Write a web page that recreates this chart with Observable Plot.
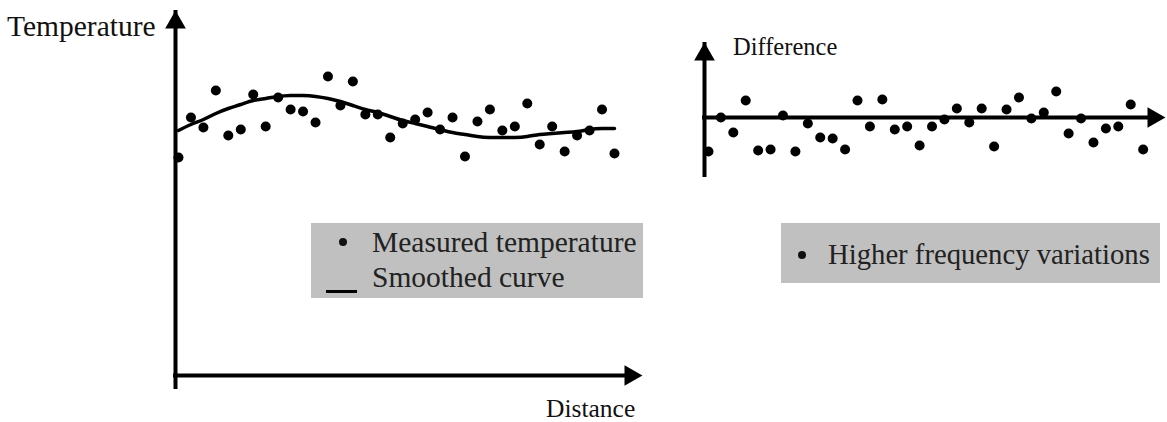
<!DOCTYPE html>
<html>
<head>
<meta charset="utf-8">
<script src="https://cdn.jsdelivr.net/npm/d3@7"></script>
<script src="https://cdn.jsdelivr.net/npm/@observablehq/plot@0.6"></script>
<style>
  html, body { margin: 0; padding: 0; background: #fff; }
  #root { position: relative; width: 1167px; height: 422px; overflow: hidden; font-family: "Liberation Serif", "Times New Roman", serif; color: #111; }
  .panel { position: absolute; top: 0; }
  .lbl { position: absolute; white-space: nowrap; line-height: 1; font-size: 29px; }
  .box { position: absolute; background: #c0c0c0; }
  .dotsw { position: absolute; width: 8px; height: 8px; border-radius: 50%; background: #111; }
  .linesw { position: absolute; height: 3px; background: #000; }
</style>
</head>
<body>
<div id="root">
  <div class="panel" id="left" style="left:0px"></div>
  <div class="panel" id="right" style="left:660px"></div>

  <div class="lbl" style="left:7px; top:12px; font-size:29.5px;">Temperature</div>
  <div class="lbl" style="left:546px; top:396px; font-size:25.5px;">Distance</div>
  <div class="lbl" style="left:733px; top:35px; font-size:24.5px;">Difference</div>

  <div class="box" style="left:311px; top:223px; width:332px; height:75px;"></div>
  <div class="dotsw" style="left:339px; top:238px;"></div>
  <div class="lbl" style="left:372px; top:228px; color:#222; font-size:29.5px;">Measured temperature</div>
  <div class="linesw" style="left:326px; top:290px; width:31px;"></div>
  <div class="lbl" style="left:372px; top:263px; color:#222; font-size:29.5px;">Smoothed curve</div>

  <div class="box" style="left:781px; top:223px; width:379px; height:60px;"></div>
  <div class="dotsw" style="left:798px; top:251px;"></div>
  <div class="lbl" style="left:828px; top:240px; color:#222; font-size:28.7px;">Higher frequency variations</div>
</div>
<script>
// Position along the distance axis (sample index)
const distance = d3.range(36);

// Measured temperature (arbitrary units)
const measured = [21.8, 25.8, 24.8, 28.5, 24.0, 24.6, 28.1, 24.9, 27.8, 26.6, 26.4, 25.3,
  29.9, 27.0, 29.4, 26.1, 26.1, 23.8, 25.2, 25.6, 26.3, 24.6, 25.8, 21.9,
  25.4, 26.6, 24.5, 24.9, 27.2, 23.1, 24.9, 22.4, 24.0, 24.5, 26.6, 22.2];

// Smoothed curve (arbitrary units)
const smoothed = [24.5, 25.1, 25.6, 26.2, 26.7, 27.1, 27.5, 27.7, 27.9, 28.0, 28.0, 27.9,
  27.7, 27.4, 27.0, 26.6, 26.3, 25.9, 25.5, 25.2, 24.9, 24.6, 24.3, 24.1,
  23.9, 23.8, 23.8, 23.8, 23.9, 24.1, 24.2, 24.3, 24.4, 24.6, 24.7, 24.7];

// Higher frequency variations (difference)
const difference = [-3.4, 0.0, -1.5, 1.7, -3.3, -3.2, 0.2, -3.4, -0.6, -2.0, -2.1, -3.2,
  1.7, -0.9, 1.8, -1.2, -0.9, -2.8, -0.9, -0.2, 0.9, -0.5, 0.9, -2.9,
  0.8, 2.0, -0.1, 0.5, 2.6, -1.6, -0.1, -2.5, -1.1, -0.9, 1.3, -3.2];

const leftX = [-0.24, 37.25];
const leftY = [0, 36.5];
const rightX = [-0.32, 36.8];
const rightY = [-4.6, 7.5];

const tempData = distance.map((d, i) => ({d, m: measured[i], s: smoothed[i]}));
const diffData = distance.map((d, i) => ({d, v: difference[i]}));

function axisMarks(xd, yd, y0) {
  return [
    Plot.ruleX([xd[0]], {y1: yd[0], y2: yd[1], stroke: "#000", strokeWidth: 4, insetTop: 14}),
    Plot.ruleY([y0], {x1: xd[0], x2: xd[1], stroke: "#000", strokeWidth: 4, insetRight: 14, strokeLinecap: "square"}),
    Plot.dot([[xd[0], yd[1]]], {x: d => d[0], y: d => d[1], symbol: "triangle", r: 7.7, fill: "#000", stroke: "none", dy: 12}),
    Plot.dot([[xd[1], y0]], {x: d => d[0], y: d => d[1], symbol: "triangle", r: 7.7, fill: "#000", stroke: "none", dx: -12, rotate: 90})
  ];
}

const left = Plot.plot({
  width: 660, height: 422,
  marginLeft: 175, marginRight: 18, marginTop: 10, marginBottom: 47,
  x: {domain: leftX, axis: null},
  y: {domain: leftY, axis: null},
  style: {background: "transparent", overflow: "visible"},
  marks: [
    ...axisMarks(leftX, leftY, leftY[0]),
    Plot.line(tempData, {x: "d", y: "s", curve: "natural", stroke: "#000", strokeWidth: 3.5}),
    Plot.dot(tempData, {x: "d", y: "m", r: 5, fill: "#000", stroke: "none"})
  ]
});
document.getElementById("left").appendChild(left);

const right = Plot.plot({
  width: 507, height: 422,
  marginLeft: 44, marginRight: 2, marginTop: 42, marginBottom: 259,
  x: {domain: rightX, axis: null},
  y: {domain: rightY, axis: null},
  style: {background: "transparent", overflow: "visible"},
  marks: [
    ...axisMarks(rightX, rightY, 0),
    Plot.dot(diffData, {x: "d", y: "v", r: 5, fill: "#000", stroke: "none"})
  ]
});
document.getElementById("right").appendChild(right);
</script>
</body>
</html>
